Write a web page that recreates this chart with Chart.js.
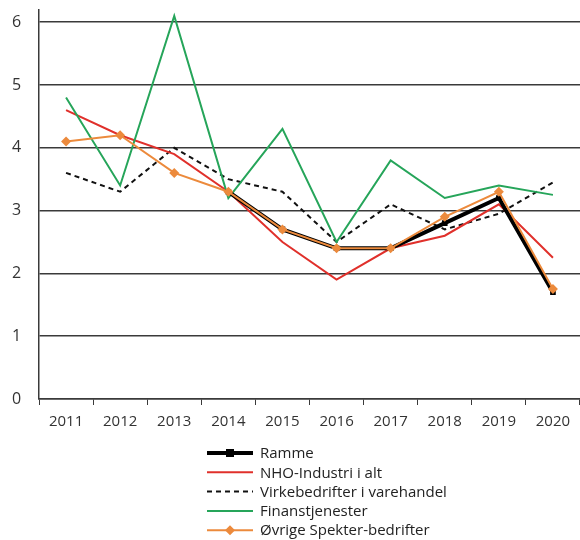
<!DOCTYPE html>
<html>
<head>
<meta charset="utf-8">
<script src="https://cdn.jsdelivr.net/npm/chart.js@4"></script>
<style>
  html, body { margin: 0; padding: 0; background: #fff; overflow: hidden; }
  #wrap { width: 585px; height: 540px; position: relative; }
</style>
</head>
<body>
<div id="wrap"><canvas id="chart"></canvas></div>
<script>
// Data
const years = ['2011', '2012', '2013', '2014', '2015', '2016', '2017', '2018', '2019', '2020'];
const ramme = [null, null, null, 3.3, 2.7, 2.4, 2.4, 2.8, 3.2, 1.7];
const nhoIndustri = [4.6, 4.2, 3.9, 3.3, 2.5, 1.9, 2.4, 2.6, 3.1, 2.25];
const virke = [3.6, 3.3, 4.0, 3.5, 3.3, 2.5, 3.1, 2.7, 2.95, 3.45];
const finans = [4.8, 3.4, 6.1, 3.2, 4.3, 2.5, 3.8, 3.2, 3.4, 3.25];
const ovrige = [4.1, 4.2, 3.6, 3.3, 2.7, 2.4, 2.4, 2.9, 3.3, 1.75];
const yTicks = [0, 1, 2, 3, 4, 5, 6];

const FONT = "'Open Sans', sans-serif";
const GRID = '#3a3a3a';

Chart.defaults.font.family = FONT;
Chart.defaults.color = '#333';

// Vertical legend drawn under the x axis
const stackedLegend = {
    id: 'stackedLegend',
    afterDraw(chart) {
        const ctx = chart.ctx;
        const x0 = 207, x1 = 253, textX = 260;
        const top = 453, rowH = 19.3;
        ctx.save();
        chart.data.datasets.forEach((ds, i) => {
            const y = top + i * rowH;
            ctx.strokeStyle = ds.borderColor;
            ctx.lineWidth = ds.borderWidth;
            ctx.setLineDash(ds.borderDash || []);
            ctx.beginPath();
            ctx.moveTo(x0, y);
            ctx.lineTo(x1, y);
            ctx.stroke();
            ctx.setLineDash([]);
            const cx = (x0 + x1) / 2;
            const r = ds.pointRadius || 0;
            if (r > 0) {
                ctx.fillStyle = ds.pointBackgroundColor;
                if (ds.pointStyle === 'rectRot') {
                    ctx.beginPath();
                    ctx.moveTo(cx, y - r);
                    ctx.lineTo(cx + r, y);
                    ctx.lineTo(cx, y + r);
                    ctx.lineTo(cx - r, y);
                    ctx.closePath();
                    ctx.fill();
                } else {
                    ctx.fillRect(cx - r, y - r, 2 * r, 2 * r);
                }
            }
            ctx.fillStyle = '#222';
            ctx.font = '15px ' + FONT;
            ctx.textBaseline = 'middle';
            ctx.fillText(ds.label, textX, y + 1);
        });
        ctx.restore();
    }
};

new Chart(document.getElementById('chart'), {
    type: 'line',
    data: {
        labels: years,
        datasets: [
            {
                label: 'Ramme',
                data: ramme,
                borderColor: '#000',
                backgroundColor: '#000',
                borderWidth: 4,
                pointStyle: 'rect',
                pointRadius: 4,
                pointBackgroundColor: '#000',
                pointBorderWidth: 0,
                order: 1
            },
            {
                label: 'NHO-Industri i alt',
                data: nhoIndustri,
                borderColor: '#e0302b',
                borderWidth: 2,
                pointRadius: 0,
                order: 4
            },
            {
                label: 'Virkebedrifter i varehandel',
                data: virke,
                borderColor: '#111',
                borderWidth: 2,
                borderDash: [5, 4],
                pointRadius: 0,
                order: 5
            },
            {
                label: 'Finanstjenester',
                data: finans,
                borderColor: '#26a55a',
                borderWidth: 2,
                pointRadius: 0,
                order: 3
            },
            {
                label: 'Øvrige Spekter-bedrifter',
                data: ovrige,
                borderColor: '#ec8a3c',
                backgroundColor: '#ec8a3c',
                borderWidth: 2,
                pointStyle: 'rectRot',
                pointRadius: 5,
                pointBackgroundColor: '#ec8a3c',
                pointBorderWidth: 0,
                order: 0
            }
        ]
    },
    options: {
        responsive: true,
        maintainAspectRatio: false,
        animation: false,
        spanGaps: false,
        layout: { padding: { top: 0, left: 12, right: 0, bottom: 101 } },
        plugins: {
            legend: { display: false },
            tooltip: { enabled: false }
        },
        scales: {
            x: {
                offset: true,
                grid: {
                    offset: true,
                    drawOnChartArea: false,
                    tickLength: 6,
                    color: GRID
                },
                border: { color: GRID, width: 1.5 },
                ticks: { font: { size: 15 }, color: '#333', padding: 8 }
            },
            y: {
                min: 0,
                max: 6.2,
                afterBuildTicks: axis => {
                    axis.ticks = yTicks.map(v => ({ value: v }));
                },
                afterFit: axis => { axis.width = 27; },
                grid: { color: GRID, lineWidth: 1.5, drawTicks: false },
                border: { color: GRID, width: 1.5 },
                ticks: { font: { size: 16 }, color: '#333', padding: 0, crossAlign: 'far' }
            }
        }
    },
    plugins: [stackedLegend]
});
</script>
</body>
</html>
